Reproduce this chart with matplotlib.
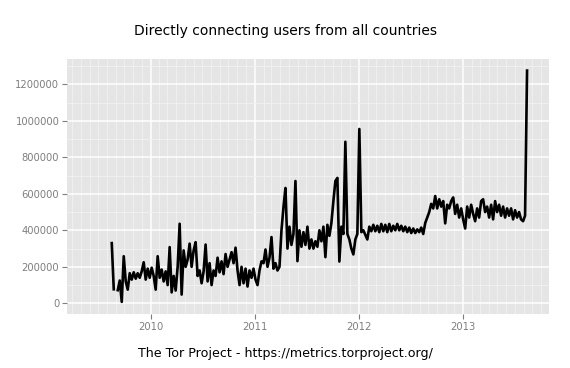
import numpy as np
import pandas as pd
import matplotlib
matplotlib.use('Agg')
import matplotlib.pyplot as plt
import matplotlib.dates as mdates
from matplotlib.ticker import MultipleLocator

# Weekly estimates of directly connecting users
start_date = '2009-08-18'
users = [
    330000, 77000, np.nan, 72000, 125000, 8000, 258000, 120000, 75000, 165000,
    130000, 170000, 135000, 165000, 140000, 175000, 225000, 130000, 190000, 140000,
    195000, 150000, 75000, 258000, 140000, 185000, 120000, 175000, 100000, 308000,
    60000, 150000, 70000, 200000, 436000, 48000, 290000, 200000, 240000, 327000,
    200000, 290000, 335000, 150000, 180000, 110000, 175000, 322000, 120000, 220000,
    100000, 180000, 150000, 250000, 170000, 230000, 160000, 270000, 200000, 240000,
    280000, 220000, 305000, 180000, 100000, 200000, 110000, 190000, 92000, 180000,
    140000, 190000, 130000, 100000, 180000, 230000, 220000, 295000, 200000, 250000,
    363000, 190000, 220000, 180000, 200000, 400000, 527000, 632000, 300000, 420000,
    320000, 380000, 670000, 231000, 400000, 310000, 390000, 320000, 420000, 300000,
    350000, 300000, 340000, 310000, 400000, 340000, 420000, 253000, 430000, 370000,
    440000, 560000, 670000, 687000, 229000, 420000, 380000, 885000, 380000, 350000,
    300000, 268000, 350000, 380000, 955000, 390000, 400000, 375000, 350000, 420000,
    395000, 430000, 395000, 425000, 390000, 435000, 395000, 430000, 390000, 435000,
    395000, 425000, 400000, 435000, 400000, 425000, 395000, 420000, 390000, 415000,
    385000, 410000, 385000, 405000, 390000, 415000, 380000, 440000, 470000, 500000,
    545000, 520000, 588000, 520000, 570000, 530000, 560000, 438000, 540000, 520000,
    560000, 580000, 490000, 540000, 470000, 520000, 460000, 410000, 530000, 470000,
    540000, 490000, 450000, 520000, 470000, 560000, 570000, 500000, 530000, 470000,
    540000, 460000, 560000, 500000, 540000, 480000, 530000, 470000, 520000, 480000,
    520000, 460000, 510000, 470000, 500000, 460000, 450000, 480000, 1275000,
]
dates = pd.date_range(start_date, periods=len(users), freq='7D')

title = 'Directly connecting users from all countries'
caption = 'The Tor Project - https://metrics.torproject.org/'

fig = plt.figure(figsize=(5.7, 3.68), dpi=100)
ax = fig.add_axes([0.1175, 0.1467, 0.8457, 0.693])
ax.set_facecolor('#E5E5E5')
for s in ax.spines.values():
    s.set_visible(False)

ax.plot(dates, users, color='black', linewidth=1.9, zorder=3)

ax.set_xlim(pd.Timestamp('2009-03-14'), pd.Timestamp('2013-10-29'))
ax.set_ylim(-58500, 1338500)

ax.xaxis.set_major_locator(mdates.YearLocator())
ax.xaxis.set_major_formatter(mdates.DateFormatter('%Y'))
ax.xaxis.set_minor_locator(mdates.MonthLocator())
ax.yaxis.set_major_locator(MultipleLocator(200000))
ax.yaxis.set_minor_locator(MultipleLocator(100000))
ax.ticklabel_format(axis='y', style='plain')

ax.grid(which='major', color='white', linewidth=1.1, zorder=1)
ax.grid(which='minor', color='#F2F2F2', linewidth=0.6, zorder=0)
ax.set_axisbelow(True)

ax.tick_params(which='major', length=3.5, width=0.8, color='#7F7F7F',
               labelcolor='#7F7F7F', labelsize=7.2, pad=2)
ax.tick_params(which='minor', length=0)

fig.text(0.5, 1 - 31 / 368, title, ha='center', va='center', fontsize=10)
fig.text(0.5, 1 - 354 / 368, caption, ha='center', va='center', fontsize=9.1)

fig.savefig('out.png', dpi=100)
